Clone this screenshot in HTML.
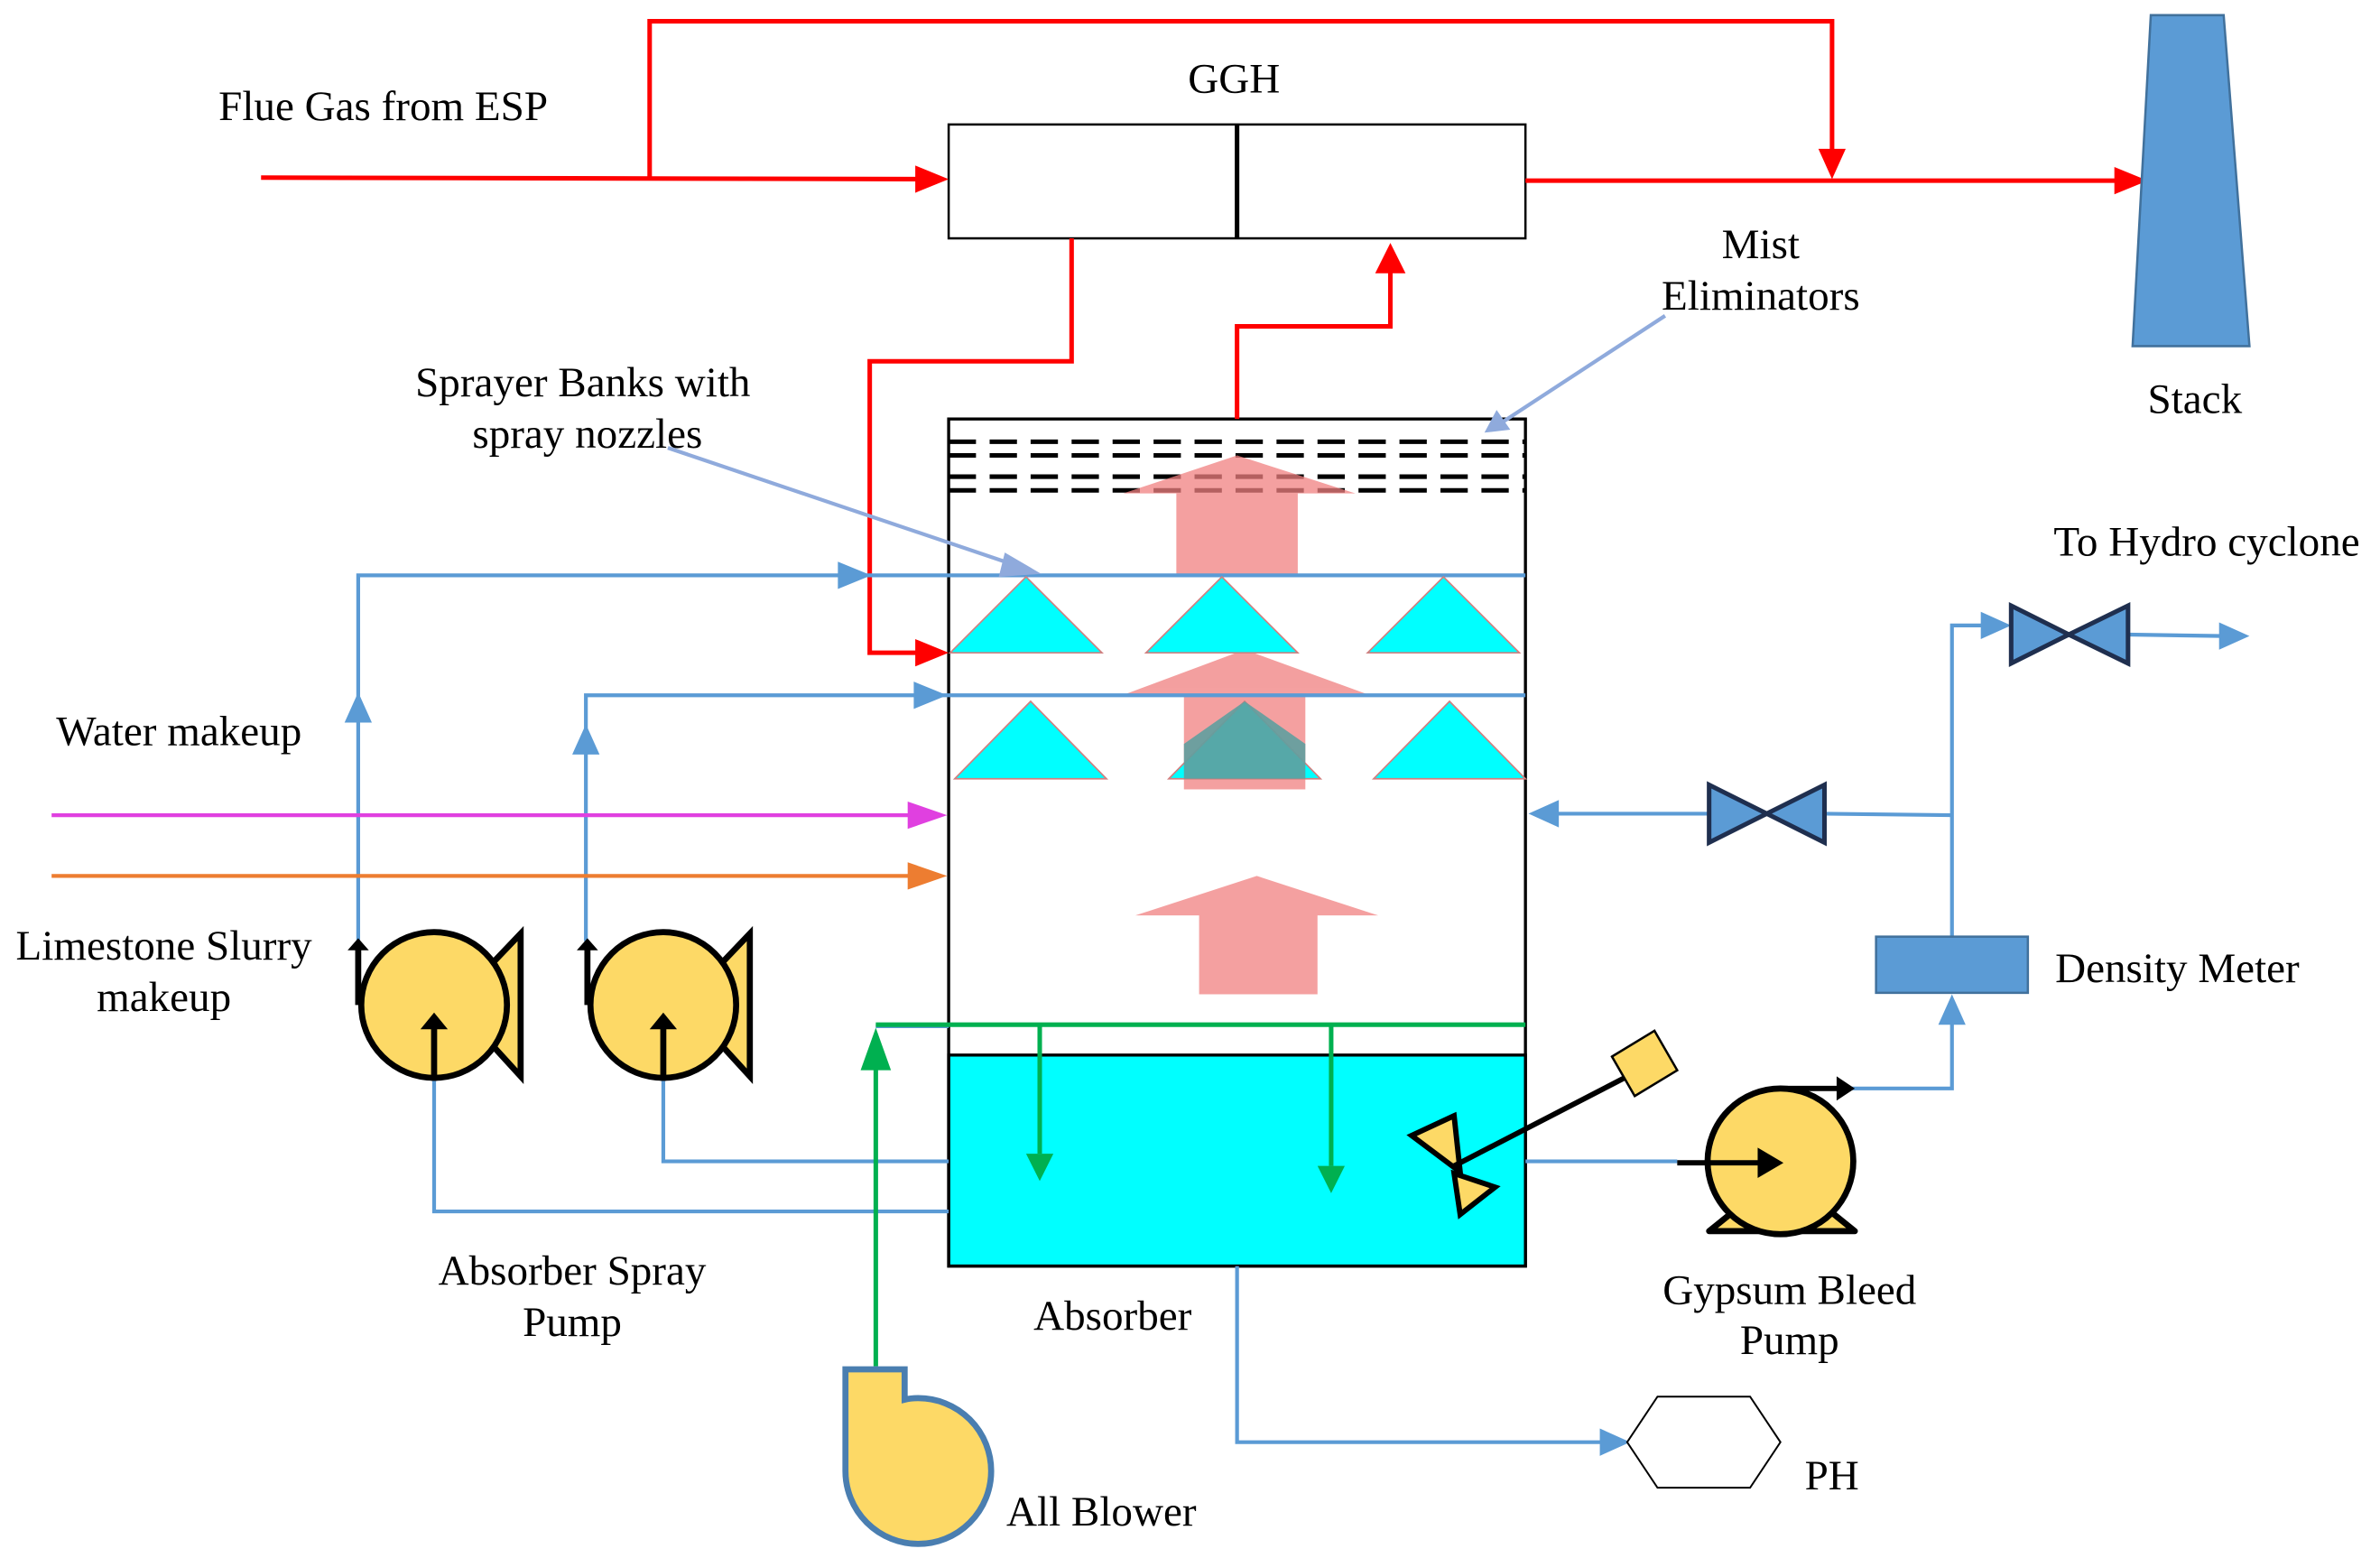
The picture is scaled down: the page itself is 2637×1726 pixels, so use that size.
<!DOCTYPE html>
<html><head><meta charset="utf-8"><style>html,body{margin:0;padding:0;background:#fff}svg{display:block}</style></head>
<body>
<svg width="2637" height="1726" viewBox="0 0 1568 1026.3" preserveAspectRatio="none" xmlns="http://www.w3.org/2000/svg" font-family="'Liberation Serif', serif" font-size="28">

<!-- absorber cyan -->
<rect x="625" y="695" width="380" height="139" fill="#00ffff" stroke="#000" stroke-width="2"/>
<rect x="625" y="276" width="380" height="558" fill="none" stroke="#000" stroke-width="2"/>

<!-- GGH -->
<rect x="625" y="82" width="380" height="75" fill="#fff" stroke="#000" stroke-width="1.5"/>
<line x1="815" y1="82" x2="815" y2="157" stroke="#000" stroke-width="3"/>

<!-- red lines -->
<g stroke="#f00" stroke-width="3" fill="none">
<path d="M172,117 L606,118"/>
<path d="M428,117 L428,14 L1207,14 L1207,100"/>
<path d="M1005,119 L1396,119"/>
<path d="M706,157 L706,238 L573,238 L573,430 L606,430"/>
<path d="M815,276 L815,215 L916,215 L916,178"/>
</g>
<g fill="#f00">
<path d="M603,109 L625,118 L603,127z"/>
<path d="M1198,98 L1207,118 L1216,98z"/>
<path d="M1393,110 L1415,119 L1393,128z"/>
<path d="M603,421 L625,430 L603,439z"/>
<path d="M906,180 L916,160 L926,180z"/>
</g>

<!-- stack -->
<polygon points="1417,10 1465,10 1482,228 1405,228" fill="#5b9bd5" stroke="#41719c" stroke-width="1.5"/>

<!-- mist eliminator dashes -->
<g stroke="#000" stroke-width="3" stroke-dasharray="18,9">
<line x1="625" y1="291" x2="1005" y2="291"/>
<line x1="625" y1="300" x2="1005" y2="300"/>
<line x1="625" y1="314" x2="1005" y2="314"/>
<line x1="625" y1="323" x2="1005" y2="323"/>
</g>

<!-- pink arrows -->
<g fill="#f08080" opacity="0.75">
<path d="M775,378 L775,325 L740,325 L815,300 L893,325 L855,325 L855,378z"/>
<path d="M780,520 L780,457 L742,457 L820,428 L900,457 L860,457 L860,520z"/>
<path d="M790,655 L790,603 L748,603 L828,577 L908,603 L868,603 L868,655z"/>
</g>

<!-- blue lines -->
<g stroke="#5b9bd5" stroke-width="2.5" fill="none">
<path d="M236,620 L236,379 L1005,379"/>
<path d="M386,620 L386,458 L1005,458"/>
<path d="M625,765 L437,765 L437,712"/>
<path d="M625,798 L286,798 L286,712"/>
<path d="M577,676 L625,676"/>
<path d="M1005,765 L1105,765"/>
<path d="M1220,717 L1286,717 L1286,660"/>
<path d="M1286,617 L1286,412 L1310,412"/>
<path d="M1402,418 L1465,419"/>
<path d="M1286,537 L1202,536"/>
<path d="M1126,536 L1020,536"/>
<path d="M815,834 L815,950 L1058,950"/>
</g>
<g fill="#5b9bd5">
<path d="M552,370 L574,379 L552,388z"/>
<path d="M602,449 L624,458 L602,467z"/>
<path d="M227,476 L236,456 L245,476z"/>
<path d="M377,497 L386,477 L395,497z"/>
<path d="M1277,675 L1286,655 L1295,675z"/>
<path d="M1305,403 L1325,412 L1305,421z"/>
<path d="M1462,410 L1482,419 L1462,428z"/>
<path d="M1027,527 L1007,536 L1027,545z"/>
<path d="M1054,941 L1074,950 L1054,959z"/>
</g>

<!-- sprayer triangles -->
<g fill="#00ffff" stroke="#d08080" stroke-width="1">
<polygon points="626,430 676,380 726,430"/>
<polygon points="755,430 805,380 855,430"/>
<polygon points="901,430 951,380 1001,430"/>
<polygon points="629,513 679,462 729,513"/>
<polygon points="770,513 820,462 870,513"/>
<polygon points="905,513 955,462 1005,513"/>
</g>
<path d="M780,513 L780,490 L820,462 L860,490 L860,513z" fill="#5f9f9f" opacity="0.9"/>

<!-- magenta, orange -->
<line x1="34" y1="537" x2="600" y2="537" stroke="#e040e0" stroke-width="2.5"/>
<path d="M598,528 L624,537 L598,546z" fill="#e040e0"/>
<line x1="34" y1="577" x2="600" y2="577" stroke="#ed7d31" stroke-width="2.5"/>
<path d="M598,568 L624,577 L598,586z" fill="#ed7d31"/>

<!-- green -->
<g stroke="#00b050" stroke-width="3" fill="none">
<line x1="577" y1="675" x2="1005" y2="675"/>
<line x1="577" y1="900" x2="577" y2="700"/>
<line x1="685" y1="675" x2="685" y2="760"/>
<line x1="877" y1="675" x2="877" y2="768"/>
</g>
<g fill="#00b050">
<path d="M567,705 L577,677 L587,705z"/>
<path d="M676,760 L685,778 L694,760z"/>
<path d="M868,768 L877,786 L886,768z"/>
</g>

<!-- annotation lines -->
<g stroke="#8faadc" stroke-width="2.5">
<line x1="440" y1="295" x2="668" y2="372"/>
<line x1="1097" y1="208" x2="990" y2="278"/>
</g>
<path d="M662,364 L686,378 L658,380z" fill="#8faadc"/>
<path d="M986,270 L978,285 L995,283z" fill="#8faadc"/>

<!-- spray pumps -->
<g stroke="#000" stroke-width="4" fill="#fdd966">
<polygon points="322,637 343,615 343,709 322,686"/>
<circle cx="286" cy="662" r="48"/>
<polygon points="473,637 494,615 494,709 473,686"/>
<circle cx="437" cy="662" r="48"/>
</g>
<g stroke="#000" stroke-width="4" fill="none">
<path d="M236,662 L236,622"/><path d="M286,712 L286,672"/>
<path d="M387,662 L387,622"/><path d="M437,712 L437,672"/>
</g>
<g fill="#000">
<path d="M229,626 L236,618 L243,626z"/><path d="M277,678 L286,667 L295,678z"/>
<path d="M380,626 L387,618 L394,626z"/><path d="M428,678 L437,667 L446,678z"/>
</g>

<!-- agitator -->
<polygon points="958,735 930,748 962,772" fill="#fdd966" stroke="#000" stroke-width="3.5"/>
<polygon points="958,773 962,800 985,782" fill="#fdd966" stroke="#000" stroke-width="3.5"/>
<line x1="958" y1="768" x2="1080" y2="705" stroke="#000" stroke-width="3.5"/>
<polygon points="1062,696 1090,679 1105,705 1077,722" fill="#fdd966" stroke="#000" stroke-width="1.5"/>

<!-- gypsum pump -->
<path d="M1126,811 L1152,790 L1196,790 L1222,811z" fill="#fdd966" stroke="#000" stroke-width="4" stroke-linejoin="round"/>
<circle cx="1173" cy="765" r="48" fill="#fdd966" stroke="#000" stroke-width="4"/>
<line x1="1105" y1="766" x2="1165" y2="766" stroke="#000" stroke-width="3.5"/>
<path d="M1158,756 L1175,766 L1158,776z" fill="#000"/>
<line x1="1173" y1="717" x2="1212" y2="717" stroke="#000" stroke-width="3.5"/>
<path d="M1210,709 L1222,717 L1210,725z" fill="#000"/>

<!-- density meter -->
<rect x="1236" y="617" width="100" height="37" fill="#5b9bd5" stroke="#41719c" stroke-width="1.5"/>

<!-- valves -->
<g fill="#5b9bd5" stroke="#1f2f4f" stroke-width="3">
<polygon points="1325,399 1363,418 1325,437"/>
<polygon points="1402,399 1363,418 1402,437"/>
<polygon points="1126,517 1164,536 1126,555"/>
<polygon points="1202,517 1164,536 1202,555"/>
</g>

<!-- PH hexagon -->
<polygon points="1072,950 1092,920 1153,920 1173,950 1153,980 1092,980" fill="#fff" stroke="#000" stroke-width="1.2"/>

<!-- blower -->
<path d="M557,902 L596,902 L596,922 Q600,921 605,921 A48,48 0 1 1 557,969 Z" fill="#fdd966" stroke="#4a7eb0" stroke-width="4"/>

<!-- text -->
<g fill="#000">
<text x="144" y="79">Flue Gas from ESP</text>
<text x="813" y="61" text-anchor="middle">GGH</text>
<text x="1160" y="170" text-anchor="middle">Mist</text>
<text x="1160" y="204" text-anchor="middle">Eliminators</text>
<text x="1446" y="272" text-anchor="middle">Stack</text>
<text x="384" y="261" text-anchor="middle">Sprayer Banks with</text>
<text x="387" y="295" text-anchor="middle">spray nozzles</text>
<text x="1353" y="366">To Hydro cyclone</text>
<text x="37" y="491">Water makeup</text>
<text x="108" y="632" text-anchor="middle">Limestone Slurry</text>
<text x="108" y="666" text-anchor="middle">makeup</text>
<text x="1354" y="647">Density Meter</text>
<text x="377" y="846" text-anchor="middle">Absorber Spray</text>
<text x="377" y="880" text-anchor="middle">Pump</text>
<text x="733" y="876" text-anchor="middle">Absorber</text>
<text x="1179" y="859" text-anchor="middle">Gypsum Bleed</text>
<text x="1179" y="892" text-anchor="middle">Pump</text>
<text x="1189" y="981">PH</text>
<text x="663" y="1005">All Blower</text>
</g>
</svg>
</body></html>
